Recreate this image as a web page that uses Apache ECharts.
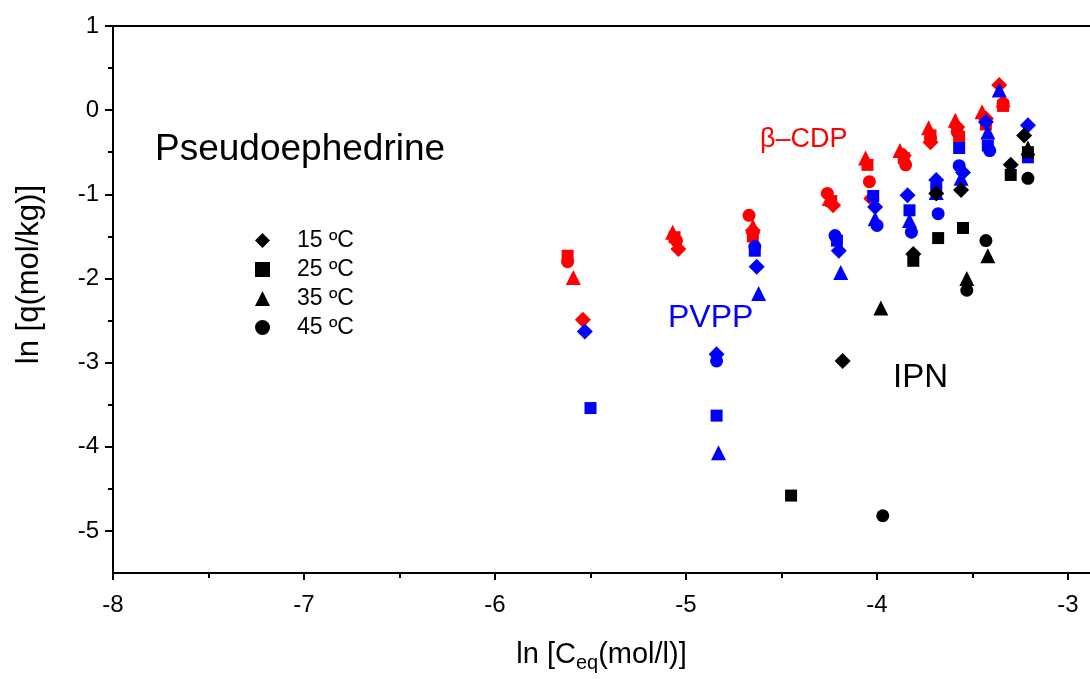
<!DOCTYPE html>
<html>
<head>
<meta charset="utf-8">
<script src="https://cdn.jsdelivr.net/npm/echarts@6/dist/echarts.min.js"></script>
<style>
  html, body { margin: 0; padding: 0; background: #fff; }
  #chart { width: 1090px; height: 679px; }
</style>
</head>
<body>
<div id="chart"></div>
<script>
// axis ticks
const xTicks = [-8, -7, -6, -5, -4, -3]
const xMinorTicks = [-7.5, -6.5, -5.5, -4.5, -3.5]
const yTicks = [-5, -4, -3, -2, -1, 0, 1]
const yMinorTicks = [-4.5, -3.5, -2.5, -1.5, -0.5, 0.5]

// temperatures (legend)
const temps = ['15 ºC', '25 ºC', '35 ºC', '45 ºC']

// beta-CDP (red)  [ln Ceq, ln q]
const cdp15 = [[-5.54, -2.49], [-5.04, -1.65], [-4.65, -1.43], [-4.23, -1.13], [-4.03, -1.05], [-3.86, -0.54], [-3.72, -0.38], [-3.58, -0.20], [-3.43, -0.10], [-3.36, 0.30]]
const cdp25 = [[-5.62, -1.73], [-5.06, -1.51], [-4.65, -1.50], [-4.24, -1.08], [-4.05, -0.65], [-3.86, -0.57], [-3.72, -0.30], [-3.57, -0.32], [-3.43, -0.17], [-3.34, 0.05]]
const cdp35 = [[-5.59, -1.99], [-5.07, -1.45], [-4.65, -1.38], [-4.25, -1.05], [-4.06, -0.57], [-3.88, -0.48], [-3.73, -0.21], [-3.59, -0.12], [-3.45, -0.02], [-3.34, 0.12]]
const cdp45 = [[-5.62, -1.80], [-5.05, -1.55], [-4.67, -1.25], [-4.26, -0.99], [-4.04, -0.85], [-3.85, -0.65], [-3.72, -0.33], [-3.58, -0.26], [-3.43, -0.13], [-3.34, 0.08]]

// PVPP (blue)
const pvpp15 = [[-5.53, -2.63], [-4.84, -2.90], [-4.63, -1.86], [-4.20, -1.67], [-4.01, -1.15], [-3.84, -1.01], [-3.69, -0.83], [-3.55, -0.74], [-3.43, -0.14], [-3.21, -0.18]]
const pvpp25 = [[-5.50, -3.54], [-4.84, -3.63], [-4.64, -1.67], [-4.21, -1.55], [-4.02, -1.02], [-3.83, -1.19], [-3.69, -0.93], [-3.57, -0.45], [-3.42, -0.42], [-3.21, -0.56]]
const pvpp35 = [[-4.83, -4.07], [-4.62, -2.18], [-4.19, -1.93], [-4.01, -1.29], [-3.83, -1.31], [-3.69, -0.98], [-3.56, -0.81], [-3.42, -0.26], [-3.36, 0.24]]
const pvpp45 = [[-4.84, -2.98], [-4.64, -1.62], [-4.22, -1.49], [-4.00, -1.37], [-3.82, -1.45], [-3.68, -1.23], [-3.57, -0.66], [-3.41, -0.48]]

// IPN (black)
const ipn15 = [[-4.18, -2.98], [-3.81, -1.71], [-3.69, -0.99], [-3.56, -0.95], [-3.30, -0.65], [-3.23, -0.30]]
const ipn25 = [[-4.45, -4.58], [-3.81, -1.79], [-3.68, -1.52], [-3.55, -1.40], [-3.30, -0.77], [-3.21, -0.50]]
const ipn35 = [[-3.98, -2.35], [-3.53, -2.00], [-3.42, -1.73], [-3.21, -0.45]]
const ipn45 = [[-3.97, -4.82], [-3.53, -2.14], [-3.43, -1.55], [-3.21, -0.81]]

const FONT = '"Liberation Sans", Arial, sans-serif'
const symbols = ['diamond', 'rect', 'triangle', 'circle']
const sizes = [16, 12, 15, 13]

const groups = [
  { color: '#ff0000', sets: [cdp15, cdp25, cdp35, cdp45] },
  { color: '#0000ff', sets: [pvpp15, pvpp25, pvpp35, pvpp45] },
  { color: '#000000', sets: [ipn15, ipn25, ipn35, ipn45] }
]

const series = []
groups.forEach(g => {
  g.sets.forEach((d, i) => {
    series.push({
      name: temps[i],
      type: 'scatter',
      data: d,
      symbol: symbols[i],
      symbolSize: sizes[i],
      itemStyle: { color: g.color, opacity: 1 },
      emphasis: { disabled: true }
    })
  })
})

const chart = echarts.init(document.getElementById('chart'), null, { renderer: 'canvas' })

const X_MIN = -8
const X_MAX = -2.885
const Y_MIN = -5.5
const Y_MAX = 1

const option = {
  animation: false,
  backgroundColor: '#fff',
  grid: { left: 113, right: 0, top: 26, bottom: 106, outerBoundsMode: 'none', containLabel: false },
  legend: {
    orient: 'vertical',
    left: 250,
    top: 224,
    padding: 5,
    itemWidth: 15,
    itemHeight: 15,
    itemGap: 6,
    selectedMode: false,
    textStyle: { fontFamily: FONT, fontSize: 23, color: '#000', padding: [0, 0, 0, 22] },
    data: temps.map((t, i) => ({ name: t, icon: symbols[i], itemStyle: { color: '#000' } }))
  },
  xAxis: [
    {
      type: 'value', min: X_MIN, max: X_MAX, interval: 1, position: 'bottom',
      name: 'ln [C{sub|eq}(mol/l)]',
      nameLocation: 'middle', nameGap: 64,
      nameTextStyle: {
        fontFamily: FONT, fontSize: 29, color: '#000',
        rich: { sub: { fontFamily: FONT, fontSize: 20, color: '#000', verticalAlign: 'bottom', padding: [16, 0, 0, 0] } }
      },
      axisLine: { onZero: false, lineStyle: { color: '#000', width: 2 } },
      axisTick: { customValues: xTicks, length: 7, lineStyle: { color: '#000', width: 2 } },
      axisLabel: {
        customValues: xTicks, margin: 20, fontFamily: FONT, fontSize: 24, color: '#000',
        formatter: v => (Number.isInteger(v) ? String(v) : '')
      },
      splitLine: { show: false }
    },
    {
      type: 'value', min: X_MIN, max: X_MAX, position: 'bottom',
      axisLine: { show: false, onZero: false },
      axisTick: { customValues: xMinorTicks, length: 5, lineStyle: { color: '#000', width: 2 } },
      axisLabel: { show: false },
      splitLine: { show: false }
    },
    {
      type: 'value', min: X_MIN, max: X_MAX, position: 'top',
      axisLine: { onZero: false, lineStyle: { color: '#000', width: 2 } },
      axisTick: { show: false },
      axisLabel: { show: false },
      splitLine: { show: false }
    }
  ],
  yAxis: [
    {
      type: 'value', min: Y_MIN, max: Y_MAX, position: 'left',
      axisLine: { show: true, onZero: false, lineStyle: { color: '#000', width: 2 } },
      axisTick: { show: true, customValues: yTicks, length: 8, lineStyle: { color: '#000', width: 2 } },
      axisLabel: {
        customValues: yTicks, margin: 14, fontFamily: FONT, fontSize: 24, color: '#000',
        formatter: v => (Number.isInteger(v) ? String(v) : '')
      },
      splitLine: { show: false }
    },
    {
      type: 'value', min: Y_MIN, max: Y_MAX, position: 'left',
      axisLine: { show: false, onZero: false },
      axisTick: { show: true, customValues: yMinorTicks, length: 5, lineStyle: { color: '#000', width: 2 } },
      axisLabel: { show: false },
      splitLine: { show: false }
    }
  ],
  graphic: [
    {
      type: 'text', left: 14, top: 185, rotation: Math.PI / 2,
      style: { text: 'ln [q(mol/kg)]', fontFamily: FONT, fontSize: 31, fill: '#000' }
    },
    { type: 'text', left: 155, top: 131, style: { text: 'Pseudoephedrine', fontFamily: FONT, fontSize: 37, fill: '#000' } },
    { type: 'text', left: 760, top: 126, style: { text: 'β–CDP', fontFamily: FONT, fontSize: 27, fill: '#ff0000' } },
    { type: 'text', left: 668, top: 302, style: { text: 'PVPP', fontFamily: FONT, fontSize: 32, fill: '#0000ff' } },
    { type: 'text', left: 893, top: 361, style: { text: 'IPN', fontFamily: FONT, fontSize: 33, fill: '#000' } }
  ],
  series: series
}

chart.setOption(option)
</script>
</body>
</html>
